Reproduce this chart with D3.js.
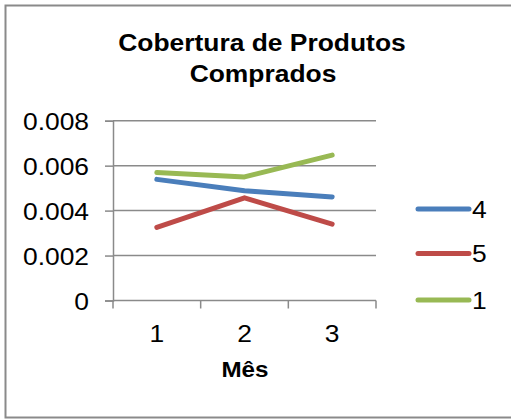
<!DOCTYPE html>
<html>
<head>
<meta charset="utf-8">
<script src="https://cdn.jsdelivr.net/npm/d3@7"></script>
<style>
  html, body { margin: 0; padding: 0; background: #fff; }
  svg { display: block; }
  text { font-family: "Liberation Sans", Arial, sans-serif; fill: #000; }
</style>
</head>
<body>
<div id="chart"></div>
<script>
// Monthly coverage of purchased products, one line per group
const months = ["1", "2", "3"];
const seriesNames = ["4", "5", "1"];
const series4 = [0.00539, 0.00488, 0.00461];
const series5 = [0.00325, 0.00457, 0.00340];
const series1 = [0.00570, 0.00550, 0.00647];
const yTicks = [0, 0.002, 0.004, 0.006, 0.008];
const colors = ["#4a7ebb", "#be4b48", "#98b954"];

const W = 511, H = 419;
const SX = 1.1; // horizontal text stretch

const svg = d3.select("#chart").append("svg")
  .attr("width", W).attr("height", H);

svg.append("rect").attr("width", W).attr("height", H).attr("fill", "#fff");

// chart frame
svg.append("rect")
  .attr("x", 5.5).attr("y", 5.5)
  .attr("width", 520).attr("height", 412)
  .attr("fill", "none").attr("stroke", "#8a8a8a").attr("stroke-width", 2);

const plot = { left: 113, right: 376, top: 120.7, bottom: 300.5 };

const x = d3.scaleBand().domain(months).range([plot.left, plot.right]);
const y = d3.scaleLinear().domain([0, 0.008]).range([plot.bottom, plot.top]);

function stretchedText(g, tx, ty, str, opts) {
  return g.append("text")
    .attr("transform", `translate(${tx},${ty}) scale(${SX},1)`)
    .attr("text-anchor", opts.anchor || "start")
    .attr("font-size", opts.size)
    .attr("font-weight", opts.weight || "normal")
    .text(str);
}

// title
stretchedText(svg, 262, 50.5, "Cobertura de Produtos", { anchor: "middle", size: 24, weight: "bold" });
stretchedText(svg, 263, 82, "Comprados", { anchor: "middle", size: 24, weight: "bold" });

// horizontal gridlines
svg.append("g").selectAll("line").data(yTicks.filter(d => d > 0)).join("line")
  .attr("x1", plot.left).attr("x2", plot.right)
  .attr("y1", d => y(d)).attr("y2", d => y(d))
  .attr("stroke", "#8a8a8a").attr("stroke-width", 1.5);

// y axis
const yAxis = svg.append("g")
  .attr("transform", `translate(${plot.left},0)`)
  .call(d3.axisLeft(y).tickValues(yTicks).tickSize(8)
    .tickFormat(d => d === 0 ? "0" : d.toFixed(3)));
yAxis.select(".domain").attr("stroke", "#8a8a8a").attr("stroke-width", 1.5);
yAxis.selectAll(".tick line").attr("stroke", "#8a8a8a").attr("stroke-width", 1.5);
yAxis.selectAll(".tick text")
  .attr("x", 0).attr("dy", "0.36em")
  .attr("transform", `translate(-24,0) scale(${SX},1)`)
  .attr("font-size", 24).attr("font-family", null).attr("fill", "#000");

// x axis
const xAxis = svg.append("g")
  .attr("transform", `translate(0,${plot.bottom})`)
  .call(d3.axisBottom(x).tickSize(0).tickFormat(d => d));
xAxis.select(".domain").remove();
xAxis.selectAll(".tick text")
  .attr("y", 0).attr("dy", null)
  .attr("transform", `translate(0,41) scale(${SX},1)`)
  .attr("font-size", 24).attr("font-family", null).attr("fill", "#000");
// category boundary ticks
const bounds = [plot.left, ...months.map(m => x(m) + x.bandwidth())];
svg.append("line")
  .attr("x1", plot.left).attr("x2", plot.right)
  .attr("y1", plot.bottom).attr("y2", plot.bottom)
  .attr("stroke", "#8a8a8a").attr("stroke-width", 1.5);
svg.append("g").selectAll("line").data(bounds).join("line")
  .attr("x1", d => d).attr("x2", d => d)
  .attr("y1", plot.bottom).attr("y2", plot.bottom + 8)
  .attr("stroke", "#8a8a8a").attr("stroke-width", 1.5);

stretchedText(svg, 245, 377, "Mês", { anchor: "middle", size: 22, weight: "bold" });

// series lines
const allSeries = [series4, series5, series1];
const line = d3.line()
  .x((d, i) => x(months[i]) + x.bandwidth() / 2)
  .y(d => y(d));

svg.append("g").selectAll("path").data(allSeries).join("path")
  .attr("d", line)
  .attr("fill", "none")
  .attr("stroke", (d, i) => colors[i])
  .attr("stroke-width", 5)
  .attr("stroke-linecap", "round")
  .attr("stroke-linejoin", "round");

// legend
const legendY = [209, 253.5, 300];
const legend = svg.append("g");
seriesNames.forEach((name, i) => {
  legend.append("line")
    .attr("x1", 418).attr("x2", 469)
    .attr("y1", legendY[i]).attr("y2", legendY[i])
    .attr("stroke", colors[i]).attr("stroke-width", 5)
    .attr("stroke-linecap", "round");
  stretchedText(legend, 472, legendY[i] + 8.5, name, { size: 24 });
});
</script>
</body>
</html>
